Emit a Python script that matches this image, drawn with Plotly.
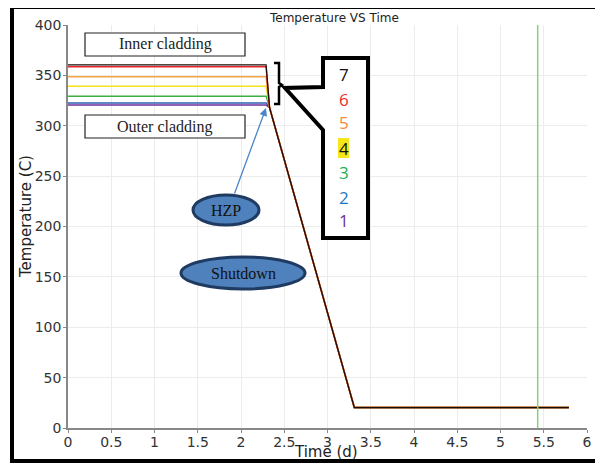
import plotly.graph_objects as go

# ---- data ----
time_points = [0, 2.29, 2.33, 3.31, 5.79]
series_names = ["1", "2", "3", "4", "5", "6", "7"]
series_colors = ["#7030a0", "#2e5fb0", "#3cb043", "#f2e21c", "#f5a442", "#e8262b", "#1a0c06"]
plateau_temps = [320.5, 322.7, 329.4, 339.3, 348.6, 358.5, 360.5]
converge_temp = 318
shutdown_temp = 20.3
marker_time = 5.43
x_ticks = [0, 0.5, 1, 1.5, 2, 2.5, 3, 3.5, 4, 4.5, 5, 5.5, 6]
y_ticks = [0, 50, 100, 150, 200, 250, 300, 350, 400]

OFF = 8  # page body margin
W, H = 603 - OFF, 469 - OFF
L, T = 68 - OFF, 25 - OFF
PW, PH = 519, 403
R, B = W - L - PW, H - T - PH


def px(x):
    return (x - OFF - L) / PW


def py(y):
    return (T + PH - (y - OFF)) / PH


fig = go.Figure()

for name, col, v in zip(series_names, series_colors, plateau_temps):
    fig.add_trace(go.Scatter(
        x=time_points,
        y=[v, v, converge_temp, shutdown_temp, shutdown_temp],
        mode="lines", name=name,
        line=dict(color=col, width=1.5 if name != "7" else 1.2),
        showlegend=False, hoverinfo="skip"))

fig.add_trace(go.Scatter(x=[marker_time, marker_time], y=[0, 400], mode="lines",
                         line=dict(color="#86d27a", width=1.5), showlegend=False))

shapes = []
# outer frame
shapes.append(dict(type="rect", xref="paper", yref="paper",
                   x0=px(12), x1=px(597), y0=py(461), y1=py(7),
                   line=dict(color="black", width=4), layer="above"))
# text boxes
for y0, y1 in [(33, 56), (115, 138)]:
    shapes.append(dict(type="rect", xref="paper", yref="paper",
                       x0=px(85), x1=px(245), y0=py(y1), y1=py(y0),
                       line=dict(color="#222", width=1.2), fillcolor="white", layer="above"))

# callout polygon
pts = [(323, 58), (368, 58), (368, 238), (323, 238), (323, 130), (285, 88), (323, 87)]
path = "M " + " L ".join(f"{px(a)},{py(b)}" for a, b in pts) + " Z"
shapes.append(dict(type="path", xref="paper", yref="paper", path=path,
                   line=dict(color="black", width=4), fillcolor="white", layer="above"))

# bracket
bpts = [(274, 63), (279, 63), (279, 83), (282, 85), (279, 87), (279, 104), (274, 104)]
bpath = "M " + " L ".join(f"{px(a)},{py(b)}" for a, b in bpts)
shapes.append(dict(type="path", xref="paper", yref="paper", path=bpath,
                   line=dict(color="black", width=2.5), layer="above"))

# yellow highlight behind "4"
shapes.append(dict(type="rect", xref="paper", yref="paper",
                   x0=px(338), x1=px(349), y0=py(158), y1=py(138),
                   line=dict(width=0), fillcolor="#f5e61a", layer="above"))

# ellipses
for cx, cy, rx, ry in [(226, 210, 33, 15), (243, 273, 62, 16)]:
    shapes.append(dict(type="circle", xref="paper", yref="paper",
                       x0=px(cx - rx), x1=px(cx + rx), y0=py(cy + ry), y1=py(cy - ry),
                       line=dict(color="#1f3b62", width=3), fillcolor="#4f81bd", layer="above"))


def label(text, x, y, size, color, family, angle=0):
    return dict(text=text, x=px(x), y=py(y), xref="paper", yref="paper",
                xanchor="center", yanchor="middle", showarrow=False, textangle=angle,
                font=dict(family=family, size=size, color=color))


annotations = [
    label("Inner cladding", 165, 44.5, 16, "#222", "Liberation Serif"),
    label("Outer cladding", 165, 126.5, 16, "#222", "Liberation Serif"),
    label("HZP", 226, 210, 16, "#111", "Liberation Serif"),
    label("Shutdown", 243, 273, 16, "#111", "Liberation Serif"),
    label("Temperature VS Time", 334, 18, 12, "#222", "DejaVu Sans"),
    label("Time (d)", 326, 452, 15, "#222", "DejaVu Sans"),
    label("Temperature (C)", 26, 217, 15, "#222", "DejaVu Sans", angle=-90),
    dict(text="", x=px(266), y=py(108), ax=-32, ay=87, xref="paper", yref="paper",
         axref="pixel", ayref="pixel", showarrow=True, arrowhead=2, arrowsize=1.2,
         arrowwidth=1.3, arrowcolor="#4a86c8"),
]
num_y = [220, 197, 172, 148, 123, 100, 75]
num_colors = ["#7030a0", "#1f77c4", "#22b04b", "#111111", "#f58a3c", "#ee2a2a", "#111111"]
for name, yy, c in zip(series_names, num_y, num_colors):
    annotations.append(label(name, 344, yy, 17, c, "Open Sans"))

axis_common = dict(showgrid=True, gridcolor="#ececec", gridwidth=1,
                   showline=True, linecolor="#888", linewidth=1.5,
                   ticks="outside", ticklen=3, tickcolor="#888",
                   tickfont=dict(family="DejaVu Sans", size=14, color="#333"),
                   zeroline=False, automargin=False)

fig.update_layout(
    width=W, height=H,
    margin=dict(l=L, r=R, t=T, b=B, autoexpand=False),
    paper_bgcolor="white", plot_bgcolor="white",
    shapes=shapes, annotations=annotations,
    xaxis=dict(range=[0, 6], tickvals=x_ticks, ticktext=[str(v) for v in x_ticks],
               ticklabelstandoff=-3, **axis_common),
    yaxis=dict(range=[0, 400], tickvals=y_ticks, ticklabelstandoff=-1, **axis_common),
)

fig.write_html("out.html")
